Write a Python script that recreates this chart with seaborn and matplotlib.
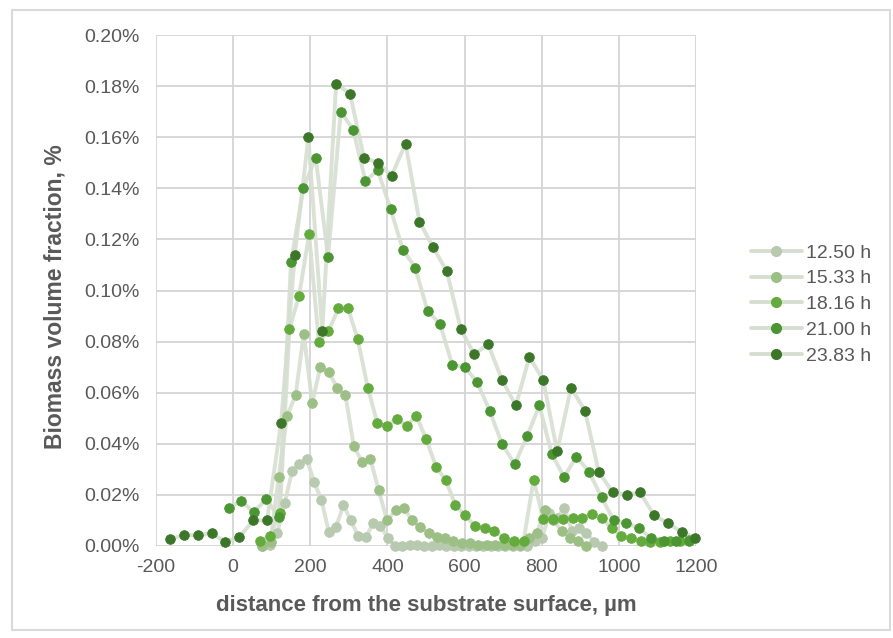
import matplotlib
matplotlib.use("Agg")
import matplotlib.pyplot as plt
from matplotlib.lines import Line2D
from matplotlib.patches import Rectangle
from matplotlib.ticker import FuncFormatter
import seaborn as sns
import pandas as pd

# ---- data: distance from substrate (um) and biomass volume fraction (%) ----
series_names = ["12.50 h", "15.33 h", "18.16 h", "21.00 h", "23.83 h"]

dist_1250 = [76, 95, 114, 134, 153, 172, 191, 210, 229, 248, 267, 286, 305, 324,
             344, 363, 382, 401, 420, 439, 458, 477, 496, 515, 534, 553, 572, 592,
             611, 630, 649, 668, 687, 706, 725, 744, 763, 782, 801, 820, 840, 859,
             878, 897, 916, 935, 955]
frac_1250 = [0.0000, 0.0005, 0.0050, 0.0170, 0.0295, 0.0320, 0.0340, 0.0250, 0.0180,
             0.0056, 0.0076, 0.0160, 0.0100, 0.0040, 0.0034, 0.0090, 0.0080, 0.0030,
             0.0000, 0.0000, 0.0003, 0.0002, 0.0000, 0.0001, 0.0002, 0.0000, 0.0001,
             0.0000, 0.0000, 0.0001, 0.0000, 0.0000, 0.0001, 0.0000, 0.0000, 0.0001,
             0.0000, 0.0020, 0.0030, 0.0130, 0.0110, 0.0150, 0.0060, 0.0070, 0.0050,
             0.0017, 0.0000]

dist_1533 = [75, 97, 118, 140, 162, 183, 205, 226, 248, 270, 291, 313, 334, 356, 377,
             399, 421, 442, 464, 485, 507, 528, 550, 571, 593, 615, 636, 658, 679, 701,
             722, 744, 766, 787, 809, 830, 852, 873, 895, 916]
frac_1533 = [0.0000, 0.0017, 0.0270, 0.0510, 0.0590, 0.0830, 0.0560, 0.0700, 0.0680,
             0.0620, 0.0590, 0.0390, 0.0330, 0.0340, 0.0220, 0.0100, 0.0140, 0.0150,
             0.0100, 0.0073, 0.0050, 0.0034, 0.0030, 0.0020, 0.0010, 0.0010, 0.0005,
             0.0005, 0.0005, 0.0005, 0.0005, 0.0005, 0.0030, 0.0050, 0.0140, 0.0100,
             0.0060, 0.0030, 0.0020, 0.0000]

dist_1816 = [70, 96, 121, 146, 171, 197, 222, 247, 273, 298, 323, 349, 374, 399, 425,
             450, 475, 500, 526, 551, 576, 601, 627, 652, 677, 703, 728, 753, 779, 804,
             829, 854, 880, 905, 930, 956, 981, 1006, 1031, 1057, 1082, 1107, 1133,
             1158, 1183]
frac_1816 = [0.0020, 0.0040, 0.0130, 0.0850, 0.0980, 0.1220, 0.0800, 0.0840, 0.0930,
             0.0930, 0.0810, 0.0620, 0.0480, 0.0470, 0.0497, 0.0470, 0.0510, 0.0420,
             0.0310, 0.0260, 0.0160, 0.0120, 0.0078, 0.0069, 0.0060, 0.0030, 0.0020,
             0.0020, 0.0260, 0.0105, 0.0105, 0.0105, 0.0110, 0.0110, 0.0125, 0.0110,
             0.0070, 0.0040, 0.0030, 0.0020, 0.0015, 0.0015, 0.0020, 0.0020, 0.0025]

dist_2100 = [-11, 21, 53, 86, 118, 150, 182, 214, 246, 279, 311, 343, 375, 408, 440,
             472, 504, 536, 568, 601, 633, 665, 697, 730, 762, 794, 826, 858, 890, 923,
             955, 987, 1019, 1052, 1084, 1116, 1148, 1181]
frac_2100 = [0.0150, 0.0176, 0.0133, 0.0183, 0.0115, 0.1110, 0.1400, 0.1520, 0.1130,
             0.1700, 0.1630, 0.1430, 0.1470, 0.1320, 0.1160, 0.1090, 0.0920, 0.0870,
             0.0710, 0.0700, 0.0640, 0.0530, 0.0400, 0.0320, 0.0430, 0.0550, 0.0360,
             0.0270, 0.0350, 0.0290, 0.0190, 0.0100, 0.0090, 0.0070, 0.0030, 0.0020,
             0.0020, 0.0020]

dist_2383 = [-163, -127, -91, -56, -20, 16, 52, 88, 124, 160, 195, 231, 267, 303, 339,
             375, 411, 447, 483, 518, 554, 590, 625, 661, 697, 733, 768, 804, 840, 876,
             912, 948, 984, 1020, 1055, 1091, 1127, 1163, 1198]
frac_2383 = [0.0027, 0.0043, 0.0043, 0.0050, 0.0016, 0.0035, 0.0100, 0.0100, 0.0480,
             0.1140, 0.1600, 0.0840, 0.1810, 0.1770, 0.1520, 0.1500, 0.1450, 0.1575,
             0.1270, 0.1170, 0.1075, 0.0850, 0.0750, 0.0790, 0.0650, 0.0550, 0.0740,
             0.0650, 0.0370, 0.0620, 0.0530, 0.0290, 0.0210, 0.0200, 0.0210, 0.0120,
             0.0090, 0.0054, 0.0033]

x_ticks = [-200, 0, 200, 400, 600, 800, 1000, 1200]
y_ticks = [0.00, 0.02, 0.04, 0.06, 0.08, 0.10, 0.12, 0.14, 0.16, 0.18, 0.20]

# ---- styling ----
marker_colors = ["#b7c9ae", "#9cbf86", "#63ab3c", "#4b9532", "#3b7629"]
line_color = "#d6ded1"
text_color = "#595959"
grid_color = "#d4d4d4"

frames = []
for name, d, f in zip(series_names,
                      [dist_1250, dist_1533, dist_1816, dist_2100, dist_2383],
                      [frac_1250, frac_1533, frac_1816, frac_2100, frac_2383]):
    frames.append(pd.DataFrame({"distance": d, "fraction": f, "series": name}))
df = pd.concat(frames, ignore_index=True)

sns.set_theme(style="whitegrid")
plt.rcParams["font.family"] = ["Liberation Sans", "DejaVu Sans"]

W, H = 893, 638
fig = plt.figure(figsize=(W / 100, H / 100), dpi=100)
ax = fig.add_axes([156 / W, 1 - 546 / H, (696 - 156) / W, (546 - 35) / H])

for name, mc in zip(series_names, marker_colors):
    sub = df[df["series"] == name]
    sns.lineplot(data=sub, x="distance", y="fraction", ax=ax, color=line_color,
                 linewidth=2.8, alpha=0.9, sort=False, estimator=None, legend=False,
                 zorder=2)
    sns.scatterplot(data=sub, x="distance", y="fraction", ax=ax, color=mc,
                    s=48, edgecolor=mc, linewidth=0.6, legend=False, zorder=3)

ax.set_xlim(-200, 1200)
ax.set_ylim(0, 0.20)
ax.set_xticks(x_ticks)
ax.set_yticks(y_ticks)
ax.yaxis.set_major_formatter(FuncFormatter(lambda v, p: f"{v:.2f}%"))
ax.xaxis.set_major_formatter(FuncFormatter(lambda v, p: f"{int(round(v))}"))
ax.grid(True, color=grid_color, linewidth=1.3)
for sp in ax.spines.values():
    sp.set_visible(False)
ax.tick_params(axis="both", length=0, labelsize=14, labelcolor=text_color)
ax.tick_params(axis="y", pad=12)
ax.tick_params(axis="x", pad=9)
ax.set_xlabel("")
ax.set_ylabel("")
ax.set_axisbelow(True)
for c in ax.collections:
    c.set_clip_on(False)

fig.text(426 / W, 1 - 605 / H, "distance from the substrate surface, \u00b5m",
         ha="center", va="center", fontsize=16, fontweight="bold", color=text_color)
fig.text(55 / W, 1 - 297 / H, "Biomass volume fraction, %", rotation=90,
         ha="center", va="center", fontsize=16.5, fontweight="bold", color=text_color)

handles = [Line2D([0], [0], color=line_color, linewidth=2.8, marker="o",
                  markersize=7, markerfacecolor=mc, markeredgecolor=mc)
           for mc in marker_colors]
fig.legend(handles, series_names, loc="upper left",
           bbox_to_anchor=(751 / W, 1 - 244 / H), frameon=False, fontsize=14,
           labelcolor=text_color, handlelength=2.6, handletextpad=0.25,
           labelspacing=0.42, borderaxespad=0, borderpad=0)

# outer chart frame
fig.patches.append(Rectangle((12 / W, 1 - 630 / H), (890 - 12) / W, (630 - 10) / H,
                             transform=fig.transFigure, fill=False,
                             edgecolor="#d9d9d9", linewidth=1.5))

fig.savefig("out.png", dpi=100, facecolor="white")
